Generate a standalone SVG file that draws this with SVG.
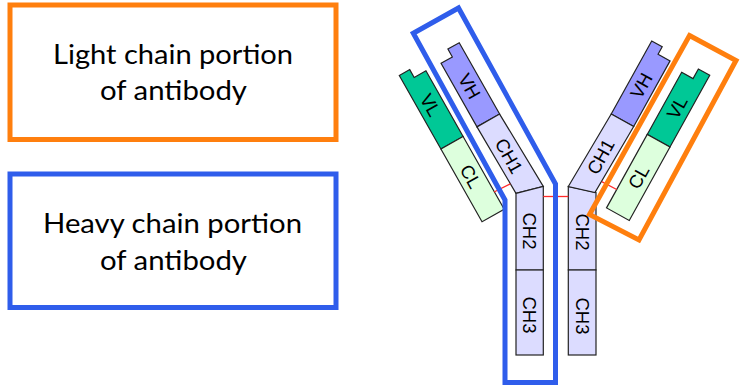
<svg xmlns="http://www.w3.org/2000/svg" width="740" height="388" viewBox="0 0 740 388">
  <style>
    .caption { font-family: Lato, "Liberation Sans", sans-serif; font-size: 26px; fill: #000; text-anchor: middle; }
    .dom { stroke: #222; stroke-width: 1.2; stroke-linejoin: miter; }
    .vh { fill: #9999FF; }
    .ch { fill: #DCDCFF; }
    .vl { fill: #00C896; }
    .cl { fill: #DDFFDD; }
    .lbl { font-family: "Liberation Sans", Arial, sans-serif; font-size: 18.5px; fill: #000; text-anchor: middle; dominant-baseline: central; }
    .bond { stroke: #FF2A2A; stroke-width: 1.3; fill: none; }
    .frame-o { fill: none; stroke: #FF7F0E; stroke-width: 5; stroke-linejoin: miter; }
    .frame-b { fill: none; stroke: #2F5DEB; stroke-width: 5; stroke-linejoin: miter; }
  </style>

  <!-- legend boxes -->
  <g id="light-legend">
    <rect class="frame-o" x="10" y="5" width="326" height="134.5"/>
    <text class="caption" x="173" y="64" textLength="240" lengthAdjust="spacingAndGlyphs">Light chain portion</text>
    <text class="caption" x="173.5" y="100" textLength="147" lengthAdjust="spacingAndGlyphs">of antibody</text>
  </g>
  <g id="heavy-legend">
    <rect class="frame-b" x="10" y="174" width="326" height="133.5"/>
    <text class="caption" x="172.5" y="232.5" textLength="259" lengthAdjust="spacingAndGlyphs">Heavy chain portion</text>
    <text class="caption" x="173.5" y="270" textLength="147" lengthAdjust="spacingAndGlyphs">of antibody</text>
  </g>

  <!-- left arm: light chain -->
  <g id="left-light-chain" transform="translate(399.3,75.5) rotate(-29.5)">
    <polygon class="dom vl" points="0,0 12,0 12,9 25.5,9 25.5,84.5 0,84.5"/>
    <polygon class="dom cl" points="0,84.5 25.5,84.5 25.5,168 0,168"/>
    <text class="lbl" transform="translate(12.5,41) rotate(90)">VL</text>
    <text class="lbl" transform="translate(12.5,123) rotate(90)">CL</text>
  </g>

  <!-- left arm: heavy chain Fab part -->
  <g id="left-heavy-fab" transform="translate(436.6,55.5) rotate(-29.5)">
    <polygon class="dom vh" points="0,9 13,9 13,0 26,0 26,82 0,82"/>
    <polygon class="dom ch" points="0,82 26,82 28.4,166.5 1.2,159"/>
    <text class="lbl" transform="translate(13.5,43) rotate(90)">VH</text>
    <text class="lbl" transform="translate(13.5,123) rotate(90)">CH1</text>
  </g>

  <!-- left heavy chain Fc part -->
  <g id="left-heavy-fc">
    <polygon class="dom ch" points="516,193.3 543.3,186.5 543.3,270 516,270"/>
    <rect class="dom ch" x="516" y="270" width="27.3" height="85"/>
    <text class="lbl" transform="translate(529.7,231) rotate(90)">CH2</text>
    <text class="lbl" transform="translate(529.7,315) rotate(90)">CH3</text>
  </g>

  <!-- right heavy chain Fc part -->
  <g id="right-heavy-fc">
    <polygon class="dom ch" points="568.3,186.5 596,192.5 596,270 568.3,270"/>
    <rect class="dom ch" x="568.3" y="270" width="27.7" height="85"/>
    <text class="lbl" transform="translate(582.2,232) rotate(90)">CH2</text>
    <text class="lbl" transform="translate(582.2,316) rotate(90)">CH3</text>
  </g>

  <!-- right arm: heavy chain Fab part -->
  <g id="right-heavy-fab" transform="translate(651.7,41) rotate(29)">
    <polygon class="dom vh" points="0,0 12,0 12,8.5 25.7,8.5 25.7,83.5 0,83.5"/>
    <polygon class="dom ch" points="0,83.5 25.7,83.5 23.8,160 -2.4,167.7"/>
    <text class="lbl" transform="translate(12.5,44) rotate(-90)">VH</text>
    <text class="lbl" transform="translate(11.5,126) rotate(-90)">CH1</text>
  </g>

  <!-- right arm: light chain -->
  <g id="right-light-chain" transform="translate(687,62.7) rotate(29)">
    <polygon class="dom vl" points="0,11 13,11 13,0 26,0 26,82 0,82"/>
    <polygon class="dom cl" points="0,82 26,82 26,166 0,166"/>
    <text class="lbl" transform="translate(13,44) rotate(-90)">VL</text>
    <text class="lbl" transform="translate(13,123.5) rotate(-90)">CL</text>
  </g>

  <!-- disulfide bonds -->
  <g id="connectors">
    <line class="bond" x1="494" y1="192" x2="510.3" y2="183.9"/>
    <line class="bond" x1="543.3" y1="196.5" x2="568.3" y2="196.5"/>
    <line class="bond" x1="601.7" y1="181.7" x2="616.7" y2="189.5"/>
  </g>

  <!-- highlight outlines -->
  <g id="heavy-outline">
    <polygon class="frame-b" points="413.3,33.3 458.5,8 555.5,184 555.5,382.5 505,382.5 505,200"/>
  </g>
  <g id="light-outline">
    <polygon class="frame-o" points="689.5,35.5 736,60.5 639,240 589.5,214.5"/>
  </g>
</svg>
